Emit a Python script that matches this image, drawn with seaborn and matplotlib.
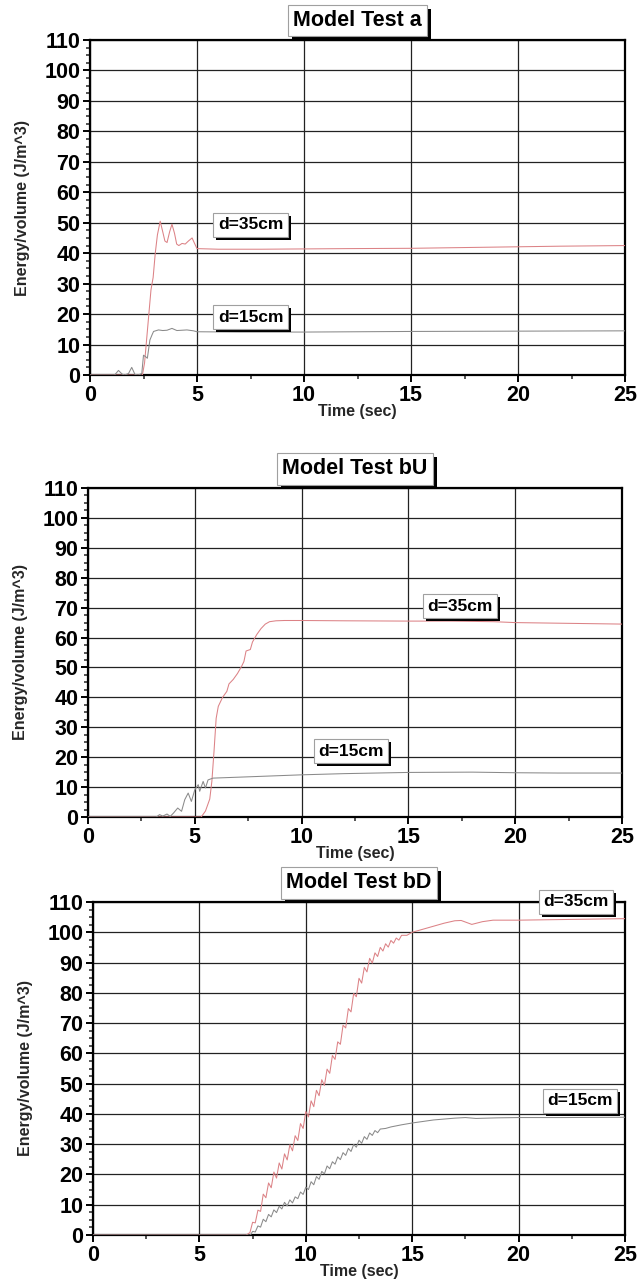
import matplotlib
matplotlib.use("Agg")
import matplotlib.pyplot as plt
import seaborn as sns
import numpy as np
from matplotlib.ticker import MultipleLocator
from matplotlib.patches import Rectangle

sns.set_style("ticks")
plt.rcParams['font.family'] = ['Liberation Sans', 'DejaVu Sans']

# ---------------- data ----------------
titles = ["Model Test a", "Model Test bU", "Model Test bD"]
series_names = ["d=35cm", "d=15cm"]
x_ticks = [0, 5, 10, 15, 20, 25]
y_ticks = [0, 10, 20, 30, 40, 50, 60, 70, 80, 90, 100, 110]

# Panel a
a35_t = [0, 2.45, 2.55, 2.65, 2.75, 2.85, 2.95, 3.05, 3.15, 3.28, 3.4, 3.5, 3.6, 3.72, 3.83,
         3.95, 4.05, 4.15, 4.3, 4.45, 4.6, 4.77, 4.9, 5.0, 6, 8, 10, 12, 15, 18, 20, 22, 25]
a35_y = [0, 0, 4, 12, 20, 28, 32, 40, 46, 50.5, 47, 44, 43.5, 47, 49.5,
         46.5, 43, 42.5, 43.2, 43, 44, 45, 43, 41.5, 41.3, 41.3, 41.4, 41.5, 41.6, 41.9, 42.1, 42.3, 42.5]
a15_t = [0, 1.15, 1.33, 1.5, 1.62, 1.8, 1.95, 2.1, 2.25, 2.42, 2.5, 2.6, 2.68, 2.8, 2.9, 2.97,
         3.2, 3.4, 3.6, 3.83, 4.06, 4.3, 4.53, 4.84, 5.0, 7, 10, 15, 20, 25]
a15_y = [0, 0, 1.5, 0.3, 0, 0.5, 2.5, 0.2, 0, 0.5, 6.5, 6.0, 5.5, 11.5, 13.2, 14.3,
         14.8, 14.6, 14.7, 15.3, 14.6, 14.7, 14.8, 14.5, 14.2, 14.1, 14.1, 14.3, 14.4, 14.5]

# Panel bU
bu35_t = [0, 5.3, 5.5, 5.7, 5.8, 5.9, 6.0, 6.1, 6.3, 6.5, 6.6, 6.8, 7.0, 7.2, 7.3, 7.4, 7.6,
          7.7, 7.9, 8.1, 8.3, 8.5, 8.8, 9.2, 10, 12, 15, 17, 19, 20, 22, 25]
bu35_y = [0, 0, 2, 6, 12, 22, 33, 37, 40, 42, 44.5, 46, 48, 50.5, 52, 55.5, 56,
          58.5, 61, 63, 64.5, 65.3, 65.6, 65.7, 65.7, 65.6, 65.5, 65.5, 65.3, 65, 64.8, 64.5]
bu15_t = [0, 3.2, 3.35, 3.5, 3.7, 3.85, 4.0, 4.2, 4.38, 4.53, 4.69, 4.84, 5.0, 5.16, 5.23,
          5.39, 5.5, 5.62, 5.85, 7, 8.5, 10, 12, 15, 18, 20, 22, 25]
bu15_y = [0, 0, 0.8, 0.3, 1.0, 0.2, 1.3, 3.0, 1.9, 5.8, 8.0, 5.2, 9.1, 10.8, 8.6,
          11.9, 9.7, 12.4, 13.0, 13.3, 13.7, 14.1, 14.5, 14.9, 15.0, 14.8, 14.7, 14.7]

# Panel bD
bd35_t = [0, 7.2, 7.375, 7.5, 7.625, 7.75, 7.875, 8.0, 8.125, 8.25, 8.375, 8.5, 8.625, 8.75,
          8.875, 9.0, 9.125, 9.25, 9.375, 9.5, 9.625, 9.75, 9.875, 10.0, 10.125, 10.25,
          10.375, 10.5, 10.625, 10.75, 10.875, 11.0, 11.125, 11.25, 11.375, 11.5, 11.625,
          11.75, 11.875, 12.0, 12.125, 12.25, 12.375, 12.5, 12.625, 12.75, 12.875, 13.0,
          13.125, 13.25, 13.375, 13.5, 13.625, 13.75, 13.875, 14.0, 14.125, 14.25, 14.375,
          14.5, 14.75, 15.0, 15.5, 16.0, 16.5, 17.0, 17.3, 17.8, 18.3, 18.8, 20, 22, 25]
bd35_y = [0, 0, 0.8, 4.2, 4.0, 8.2, 7.8, 13.5, 12.3, 17.2, 15.6, 20.8, 18.8, 23.8,
          21.8, 26.8, 24.8, 29.8, 27.8, 32.8, 31.2, 36.8, 35.2, 40.8, 39.0, 44.3,
          42.4, 47.8, 46.0, 51.3, 49.4, 54.8, 53.4, 59.3, 58.0, 63.8, 63.0,
          69.3, 68.4, 74.8, 73.7, 79.8, 78.7, 84.8, 83.2, 88.4, 86.9, 91.4,
          89.8, 93.2, 92.0, 95.0, 93.8, 96.2, 95.1, 97.3, 96.4, 98.1, 97.4,
          99.0, 99.0, 100.0, 101.0, 102.0, 103.0, 103.8, 103.9, 102.6, 103.5, 104.0, 104.0, 104.2, 104.5]
bd15_t = [0, 7.4, 7.5, 7.625, 7.75, 7.875, 8.0, 8.125, 8.25, 8.375, 8.5, 8.625, 8.75, 8.875,
          9.0, 9.125, 9.25, 9.375, 9.5, 9.625, 9.75, 9.875, 10.0, 10.125, 10.25, 10.375,
          10.5, 10.625, 10.75, 10.875, 11.0, 11.125, 11.25, 11.375, 11.5, 11.625, 11.75,
          11.875, 12.0, 12.125, 12.25, 12.375, 12.5, 12.625, 12.75, 12.875, 13.0, 13.125,
          13.25, 13.375, 13.5, 13.75, 14.0, 14.5, 15.0, 16, 17, 17.5, 18, 19, 20, 22, 25]
bd15_y = [0, 0, 1.2, 1.0, 3.0, 2.6, 5.2, 4.4, 6.8, 6.0, 8.3, 7.4, 9.5, 8.6,
          10.8, 9.6, 11.6, 10.6, 12.6, 12.0, 14.2, 13.4, 15.8, 15.0, 17.6, 16.6,
          19.3, 18.4, 21.0, 20.2, 22.8, 21.9, 24.2, 23.4, 25.8, 24.9, 27.2,
          26.3, 28.6, 27.6, 29.9, 29.0, 31.3, 30.3, 32.5, 31.6, 33.7, 32.9,
          34.5, 33.8, 35.0, 35.2, 35.7, 36.4, 37.0, 38.0, 38.6, 38.8, 38.5, 38.7, 38.8, 38.8, 38.9]

# label anchor positions (data coords) for the d= boxes
label_pos = [
    [(7.5, 49.3), (7.5, 19.0)],
    [(17.4, 70.5), (12.3, 22.0)],
    [(22.7, 110.0), (22.9, 44.3)],
]
panels = [
    [(a35_t, a35_y), (a15_t, a15_y)],
    [(bu35_t, bu35_y), (bu15_t, bu15_y)],
    [(bd35_t, bd35_y), (bd15_t, bd15_y)],
]

# ---------------- layout / style ----------------
W, H = 641, 1280
fig = plt.figure(figsize=(W / 100, H / 100), dpi=100)
rects_px = [(90, 40, 625, 375), (88, 488, 622, 817), (93, 902, 625, 1235)]
colors = ["#dc8286", "#8a8a8a"]

boxed_texts = []  # (ax, text, shadow offset px)


def boxed(ax, x, y, text, size, transform=None, off=4):
    kw = dict(ha="center", va="center", fontsize=size, fontweight="bold",
              annotation_clip=False, color="black", zorder=21)
    if transform is not None:
        kw["xycoords"] = transform
    t = ax.annotate(text, xy=(x, y),
                    bbox=dict(boxstyle="square,pad=0.25", fc="white", ec="#a0a0a0", lw=0.8),
                    **kw)
    boxed_texts.append((ax, t, off))


axes = []
for i, (l, t, r, b) in enumerate(rects_px):
    ax = fig.add_axes([l / W, 1 - b / H, (r - l) / W, (b - t) / H])
    axes.append(ax)
    for (tt, yy), c in zip(panels[i], colors):
        sns.lineplot(x=tt, y=yy, ax=ax, color=c, linewidth=0.75, zorder=5)
    ax.set_xlim(0, 25)
    ax.set_ylim(0, 110)
    ax.set_xticks(x_ticks)
    ax.set_yticks(y_ticks)
    ax.xaxis.set_minor_locator(MultipleLocator(2.5))
    ax.yaxis.set_minor_locator(MultipleLocator(2.5))
    ax.grid(True, which="major", color="#222222", linewidth=0.9, zorder=1)
    ax.set_axisbelow(True)
    for s in ax.spines.values():
        s.set_visible(True)
        s.set_linewidth(1.6)
        s.set_color("black")
    ax.tick_params(which="major", direction="out", length=5, width=1.4, pad=2,
                   labelsize=15.5, colors="black")
    ax.tick_params(which="minor", direction="out", length=3, width=1.1)
    for lab in ax.get_xticklabels() + ax.get_yticklabels():
        lab.set_fontweight("bold")
    ax.set_xlabel("Time (sec)", fontsize=11.5, fontweight="bold", labelpad=-1.5)
    ax.set_ylabel("Energy/volume (J/m^3)", fontsize=11.5, fontweight="bold")
    ax.yaxis.set_label_coords(-0.112, 0.5)
    boxed(ax, 0.5, 1.058, titles[i], 15.5, transform=ax.transAxes, off=4)
    for (lx, ly), name in zip(label_pos[i], series_names):
        boxed(ax, lx, ly, name, 12.5, off=3)

# drop shadows drawn as rectangles behind each boxed text
fig.canvas.draw()
renderer = fig.canvas.get_renderer()
for ax, t, off in boxed_texts:
    bb = t.get_bbox_patch().get_window_extent(renderer)
    inv = ax.transAxes.inverted()
    (x0, y0) = inv.transform((bb.x0 + off, bb.y0 - off))
    (x1, y1) = inv.transform((bb.x1 + off, bb.y1 - off))
    ax.add_patch(Rectangle((x0, y0), x1 - x0, y1 - y0, transform=ax.transAxes,
                           fc="black", ec="none", zorder=20, clip_on=False))

fig.savefig("out.png", dpi=100)
